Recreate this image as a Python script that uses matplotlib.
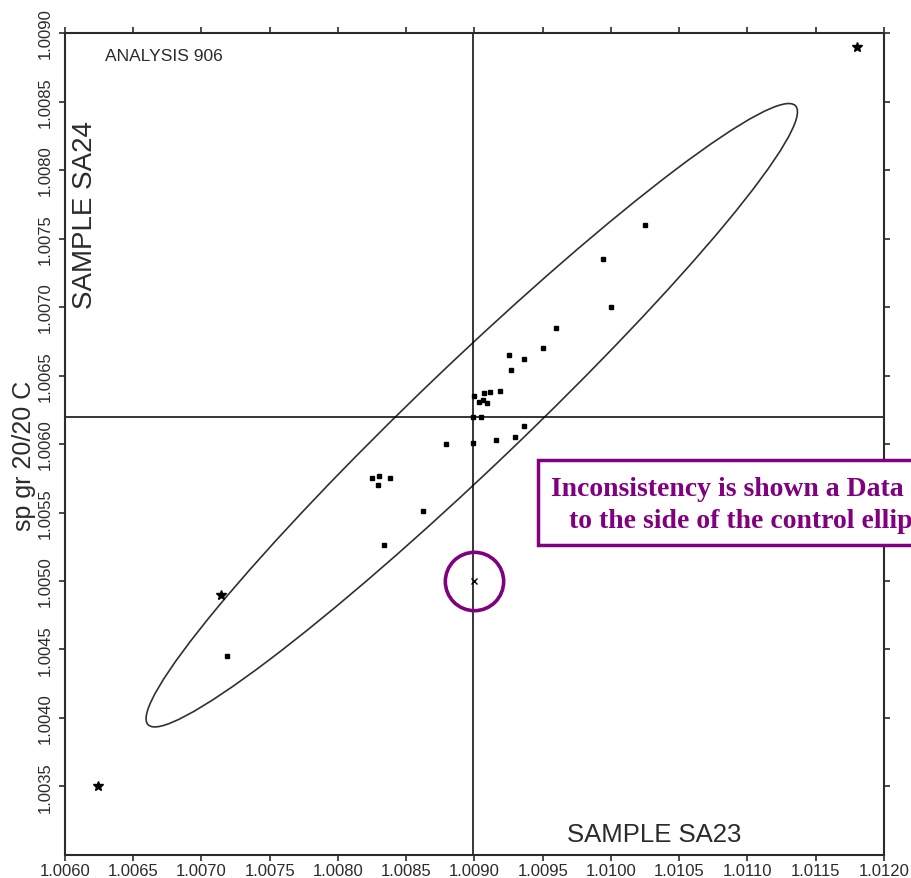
import numpy as np
import matplotlib
matplotlib.use("Agg")
import matplotlib.pyplot as plt
from matplotlib.patches import Ellipse, Rectangle

# Youden plot: sp gr 20/20 C, sample SA23 (x) vs sample SA24 (y)
# regular results (small dots)
sa23 = [1.01025, 1.00994, 1.01000, 1.00960, 1.00950, 1.00925, 1.00936, 1.00927,
        1.00919, 1.00900, 1.00907, 1.00911, 1.00903, 1.00906, 1.00909, 1.00899,
        1.00905, 1.00936, 1.00930, 1.00916, 1.00899, 1.00879, 1.00825, 1.00830,
        1.00829, 1.00838, 1.00862, 1.00834, 1.00719]
sa24 = [1.00760, 1.00735, 1.00700, 1.00685, 1.00670, 1.00665, 1.00662, 1.00654,
        1.00639, 1.00635, 1.00637, 1.00638, 1.00631, 1.00632, 1.00630, 1.00620,
        1.00620, 1.00613, 1.00605, 1.00603, 1.00601, 1.00600, 1.00575, 1.00577,
        1.00570, 1.00575, 1.00551, 1.00526, 1.00445]

# outliers (stars)
out_sa23 = [1.01180, 1.00714, 1.00624]
out_sa24 = [1.00890, 1.00490, 1.00350]

# the inconsistent lab (x, circled)
bad_sa23 = [1.00900]
bad_sa24 = [1.00500]

# medians (cross lines) and control ellipse
med_sa23 = 1.00899
med_sa24 = 1.00620
ell_center = (1.00898, 1.00621)
ell_width = 0.00655
ell_height = 0.00076
ell_angle = 43.6

x_ticks = np.arange(1.0060, 1.01201, 0.0005)
y_ticks = np.arange(1.0035, 1.00901, 0.0005)

note_line1 = "Inconsistency is shown a Data point"
note_line2 = "to the side of the control ellipse"

plt.rcParams['font.family'] = ['Liberation Sans', 'DejaVu Sans']
dark = "#2b2b2b"
purple = "#800080"

fig = plt.figure(figsize=(9.11, 8.79), dpi=100)
ax = fig.add_axes([65/911, 23/879, 819/911, 822/879])

ax.axvline(med_sa23, color="black", lw=1.1)
ax.axhline(med_sa24, color="black", lw=1.1)

ell = Ellipse(ell_center, ell_width, ell_height, angle=ell_angle,
              fill=False, ec="#2f2f3a", lw=1.2)
ax.add_patch(ell)

ax.plot(sa23, sa24, "s", color="black", ms=2.2, ls="none")
ax.plot(out_sa23, out_sa24, "*", color="black", ms=7, ls="none")
ax.plot(bad_sa23, bad_sa24, "x", color="black", ms=5, mew=1.0, ls="none")
# circle round the inconsistent point
ax.plot(bad_sa23, bad_sa24, "o", mfc="none", mec=purple, ms=42, mew=2.6, ls="none")

ax.set_xlim(1.0060, 1.0120)
ax.set_ylim(1.0030, 1.0090)
ax.set_xticks(x_ticks)
ax.set_yticks(y_ticks)
ax.set_xticklabels([f"{v:.4f}" for v in x_ticks])
ax.set_yticklabels([f"{v:.4f}" for v in y_ticks], rotation=90, va="center")
ax.tick_params(direction="out", length=4, width=1.2, color=dark,
               labelsize=12, labelcolor=dark, top=True, right=True,
               labeltop=False, labelright=False)
ax.tick_params(axis="x", pad=2)
ax.tick_params(axis="y", pad=5)
for sp in ax.spines.values():
    sp.set_color(dark)
    sp.set_linewidth(1.5)

ax.set_ylabel("sp gr 20/20 C", fontsize=18, color=dark)
ax.yaxis.set_label_coords(-0.035, 0.487)

ax.text(0.049, 0.982, "ANALYSIS 906", transform=ax.transAxes, fontsize=12.5,
        color=dark, ha="left", va="top")
ax.text(0.025, 0.78, "SAMPLE SA24", transform=ax.transAxes, fontsize=20,
        color=dark, rotation=90, ha="center", va="center")
ax.text(0.72, 0.025, "SAMPLE SA23", transform=ax.transAxes, fontsize=18.5,
        color=dark, ha="center", va="center")

# annotation box, running off the right edge of the figure as in the original
W, H = 911, 879
fig.patches.append(Rectangle((538/W, 1 - 546/H), 440/W, 85/H, transform=fig.transFigure,
                             fc="white", ec=purple, lw=2.5, zorder=5))
serif = ["Liberation Serif", "DejaVu Serif"]
fig.text(551/W, 1 - 490/H, note_line1, fontsize=20, fontweight="bold", family=serif,
         color=purple, ha="left", va="center", zorder=6)
fig.text(569/W, 1 - 522/H, note_line2, fontsize=20, fontweight="bold", family=serif,
         color=purple, ha="left", va="center", zorder=6)

fig.savefig("out.png", dpi=100)
